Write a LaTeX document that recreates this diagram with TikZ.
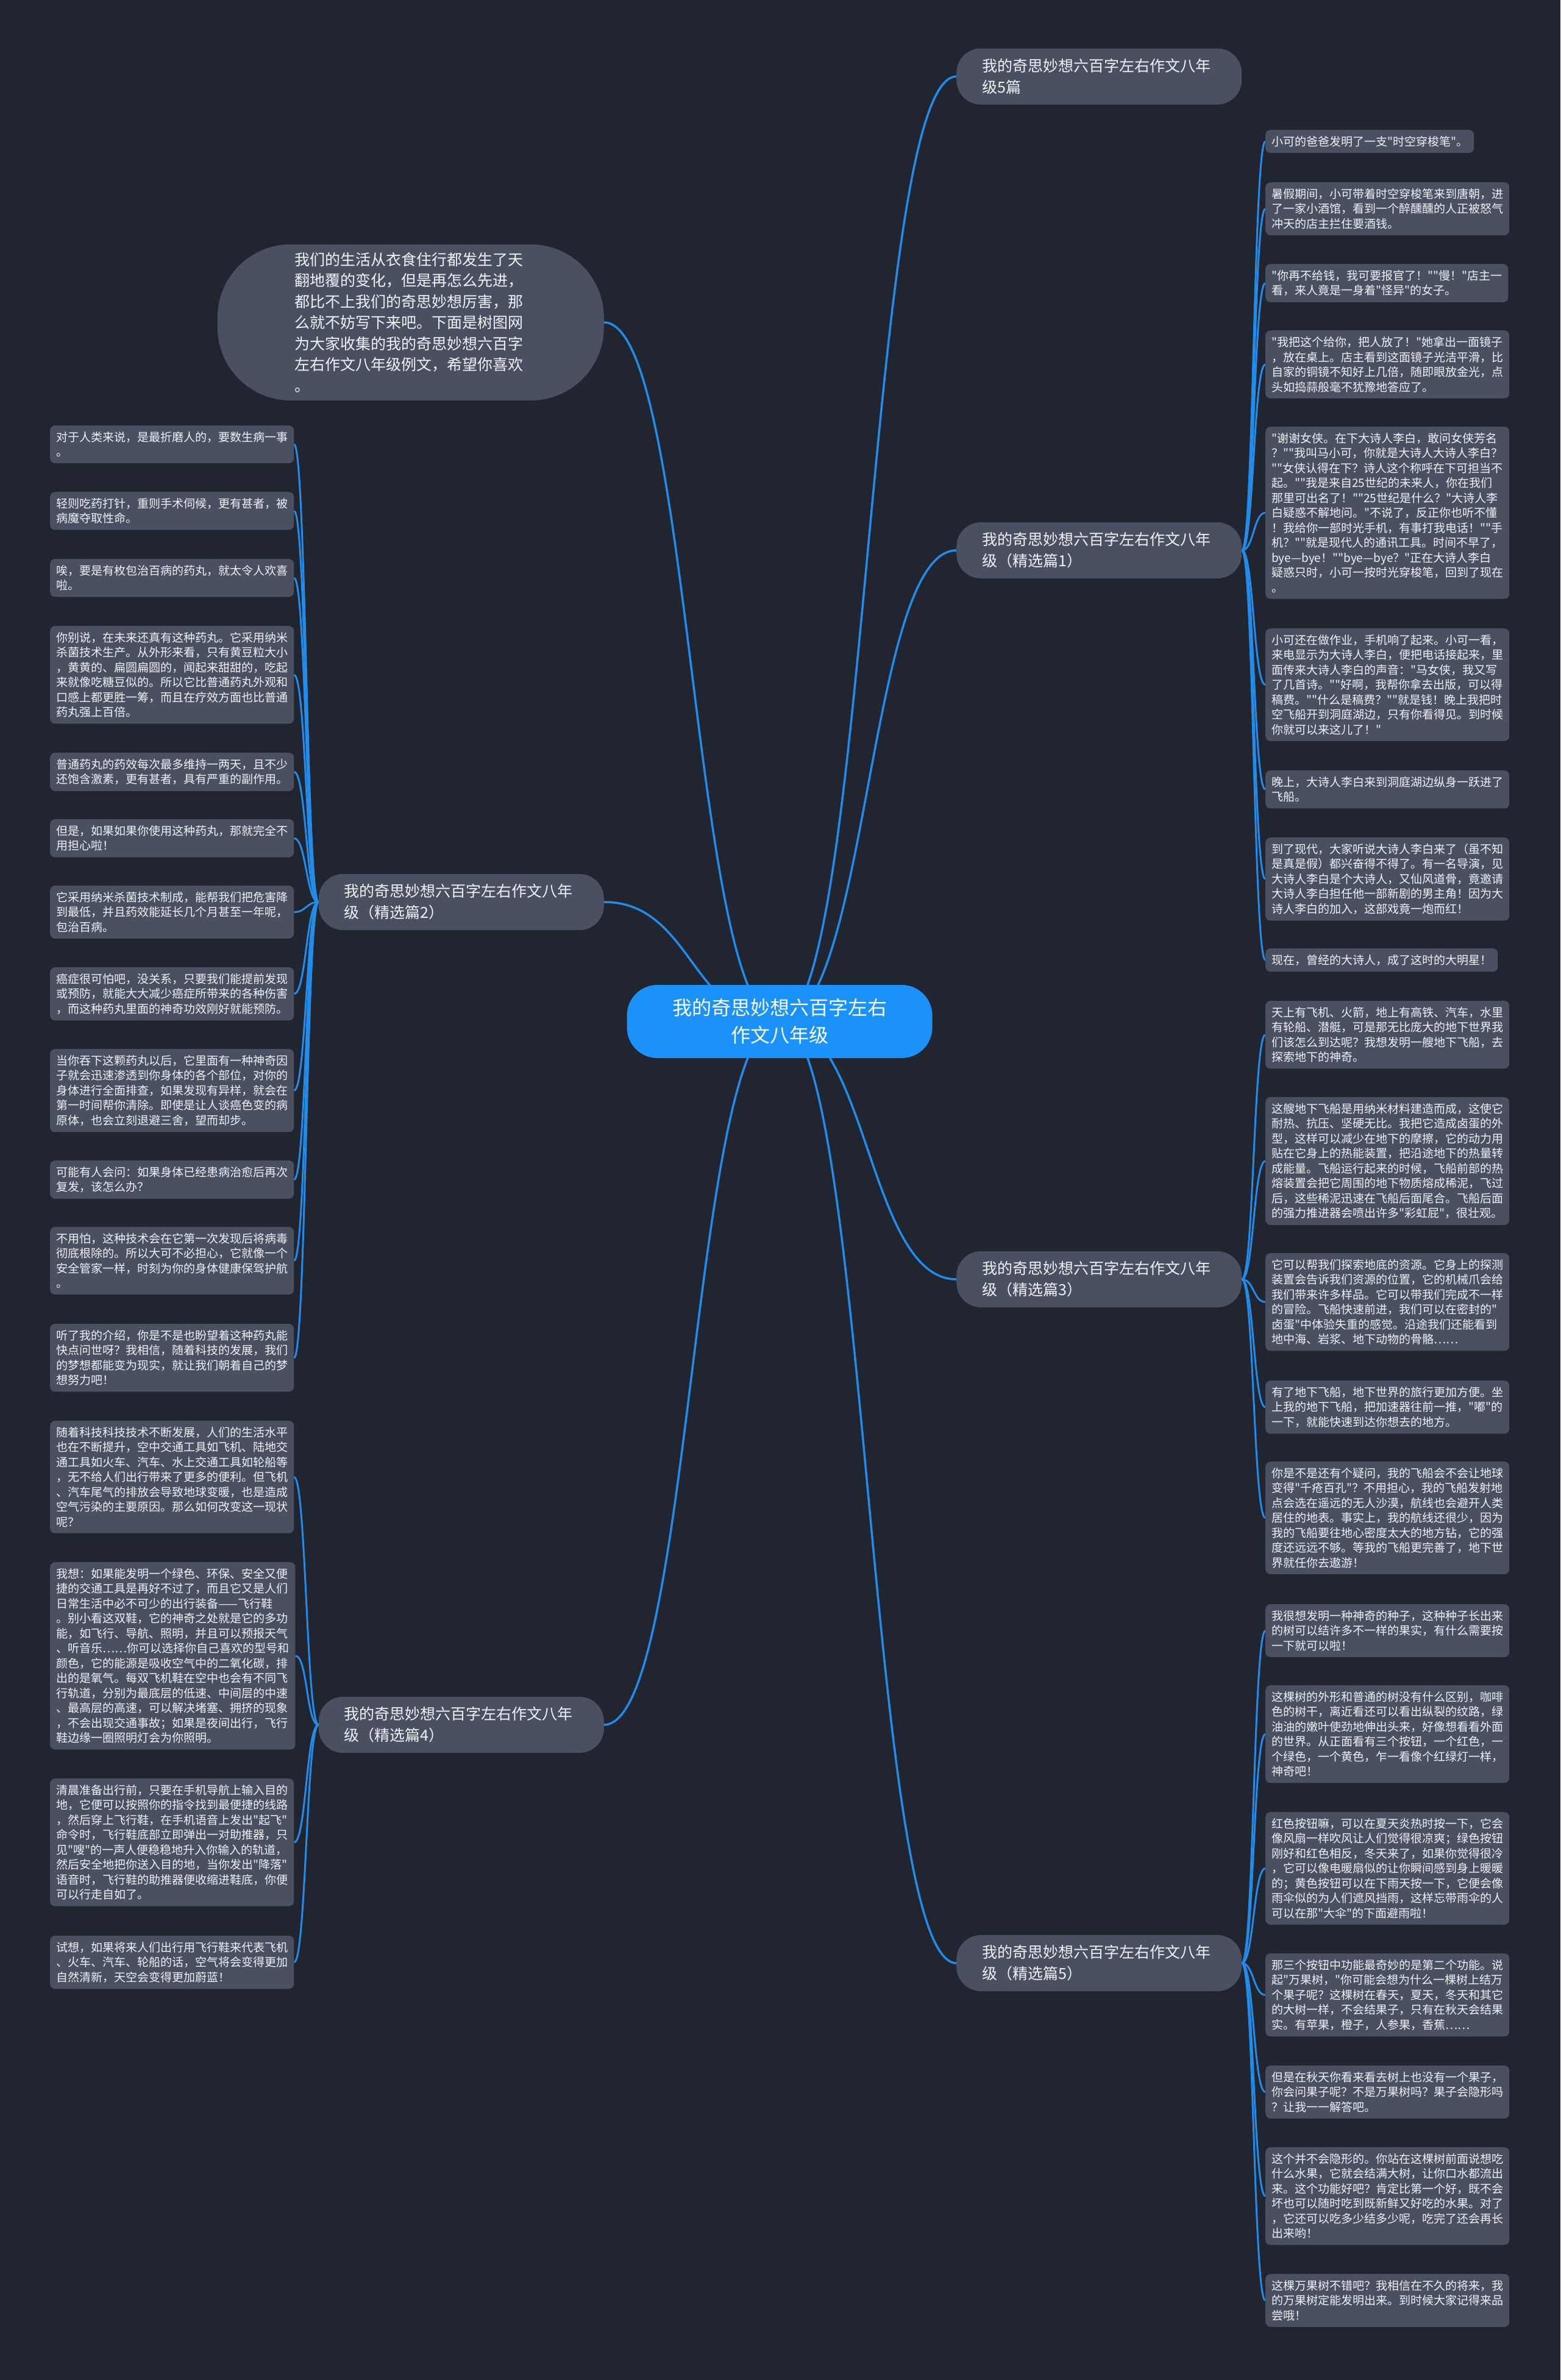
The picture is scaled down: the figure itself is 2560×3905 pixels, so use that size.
\documentclass[tikz,border=0pt]{standalone}
\usepackage{fontspec}
\newfontfamily\cjk{Noto Sans CJK SC}
\usetikzlibrary{backgrounds}
\definecolor{bgcol}{RGB}{33,37,48}
\definecolor{boxfill}{RGB}{73,80,97}
\definecolor{rootfill}{RGB}{27,145,250}
\definecolor{linkcol}{RGB}{34,140,235}
\definecolor{txtcol}{RGB}{240,242,245}

\begin{document}
\begin{tikzpicture}[x=1pt,y=-1pt,
  leaf/.style={fill=boxfill, rounded corners=8pt, text=txtcol, align=left, anchor=north west,
    inner xsep=10pt, inner ysep=10pt, font=\cjk\fontsize{19}{24.5}\selectfont},
  branch/.style={fill=boxfill, rounded corners=40pt, text=txtcol, align=left, text width=384pt,
    inner xsep=42pt, minimum height=92pt, font=\cjk\fontsize{25}{35}\selectfont},
  root/.style={fill=rootfill, rounded corners=50pt, text=white, align=center, minimum width=501pt,
    minimum height=120pt, font=\cjk\fontsize{32}{45}\selectfont},
  intro/.style={fill=boxfill, rounded corners=120pt, text=txtcol, align=left, text width=380pt,
    inner xsep=127pt, minimum height=256pt, font=\cjk\fontsize{25}{34.5}\selectfont},
  trunk/.style={draw=linkcol, line width=3.5pt},
  link/.style={draw=linkcol, line width=3pt},
]
\useasboundingbox (0,0) rectangle (2560,3905);

% ---- Centre and first level ----
\node[root] (root) at (1279,1676) {我的奇思妙想六百字左右\\作文八年级};
\node[branch, anchor=west] (b0) at (1569,125.5) {我的奇思妙想六百字左右作文八年\\级5篇};
\node[branch, anchor=west] (b1) at (1569,903) {我的奇思妙想六百字左右作文八年\\级（精选篇1）};
\node[branch, anchor=west] (b3) at (1569,2099) {我的奇思妙想六百字左右作文八年\\级（精选篇3）};
\node[branch, anchor=west] (b5) at (1569,3221) {我的奇思妙想六百字左右作文八年\\级（精选篇5）};
\node[branch, anchor=east] (b2) at (991,1480) {我的奇思妙想六百字左右作文八年\\级（精选篇2）};
\node[branch, anchor=east] (b4) at (991,2830) {我的奇思妙想六百字左右作文八年\\级（精选篇4）};
\node[intro, anchor=east] (intro) at (991,529) {我们的生活从衣食住行都发生了天\\翻地覆的变化，但是再怎么先进，\\都比不上我们的奇思妙想厉害，那\\么就不妨写下来吧。下面是树图网\\为大家收集的我的奇思妙想六百字\\左右作文八年级例文，希望你喜欢\\。};

% ---- Leaves of 精选篇1 ----
\node[leaf] (r1) at (2076,213) {小可的爸爸发明了一支"时空穿梭笔"。};
\node[leaf] (r2) at (2076,299) {暑假期间，小可带着时空穿梭笔来到唐朝，进\\了一家小酒馆，看到一个醉醺醺的人正被怒气\\冲天的店主拦住要酒钱。};
\node[leaf] (r3) at (2076,433) {"你再不给钱，我可要报官了！""慢！"店主一\\看，来人竟是一身着"怪异"的女子。};
\node[leaf] (r4) at (2076,542) {"我把这个给你，把人放了！"她拿出一面镜子\\，放在桌上。店主看到这面镜子光洁平滑，比\\自家的铜镜不知好上几倍，随即眼放金光，点\\头如捣蒜般毫不犹豫地答应了。};
\node[leaf] (r5) at (2076,700) {"谢谢女侠。在下大诗人李白，敢问女侠芳名\\？""我叫马小可，你就是大诗人大诗人李白？\\""女侠认得在下？诗人这个称呼在下可担当不\\起。""我是来自25世纪的未来人，你在我们\\那里可出名了！""25世纪是什么？"大诗人李\\白疑惑不解地问。"不说了，反正你也听不懂\\！我给你一部时光手机，有事打我电话！""手\\机？""就是现代人的通讯工具。时间不早了，\\bye—bye！""bye—bye？"正在大诗人李白\\疑惑只时，小可一按时光穿梭笔，回到了现在\\。};
\node[leaf] (r6) at (2076,1031) {小可还在做作业，手机响了起来。小可一看，\\来电显示为大诗人李白，便把电话接起来，里\\面传来大诗人李白的声音："马女侠，我又写\\了几首诗。""好啊，我帮你拿去出版，可以得\\稿费。""什么是稿费？""就是钱！晚上我把时\\空飞船开到洞庭湖边，只有你看得见。到时候\\你就可以来这儿了！"};
\node[leaf] (r7) at (2076,1264) {晚上，大诗人李白来到洞庭湖边纵身一跃进了\\飞船。};
\node[leaf] (r8) at (2076,1374) {到了现代，大家听说大诗人李白来了（虽不知\\是真是假）都兴奋得不得了。有一名导演，见\\大诗人李白是个大诗人，又仙风道骨，竟邀请\\大诗人李白担任他一部新剧的男主角！因为大\\诗人李白的加入，这部戏竟一炮而红！};
\node[leaf] (r9) at (2076,1556) {现在，曾经的大诗人，成了这时的大明星！};

% ---- Leaves of 精选篇3 ----
\node[leaf] (r10) at (2076,1642) {天上有飞机、火箭，地上有高铁、汽车，水里\\有轮船、潜艇，可是那无比庞大的地下世界我\\们该怎么到达呢？我想发明一艘地下飞船，去\\探索地下的神奇。};
\node[leaf] (r11) at (2076,1800) {这艘地下飞船是用纳米材料建造而成，这使它\\耐热、抗压、坚硬无比。我把它造成卤蛋的外\\型，这样可以减少在地下的摩擦，它的动力用\\贴在它身上的热能装置，把沿途地下的热量转\\成能量。飞船运行起来的时候，飞船前部的热\\熔装置会把它周围的地下物质熔成稀泥，飞过\\后，这些稀泥迅速在飞船后面尾合。飞船后面\\的强力推进器会喷出许多"彩虹屁"，很壮观。};
\node[leaf] (r12) at (2076,2056) {它可以帮我们探索地底的资源。它身上的探测\\装置会告诉我们资源的位置，它的机械爪会给\\我们带来许多样品。它可以带我们完成不一样\\的冒险。飞船快速前进，我们可以在密封的"\\卤蛋"中体验失重的感觉。沿途我们还能看到\\地中海、岩浆、地下动物的骨骼……};
\node[leaf] (r13) at (2076,2265) {有了地下飞船，地下世界的旅行更加方便。坐\\上我的地下飞船，把加速器往前一推，"嘟"的\\一下，就能快速到达你想去的地方。};
\node[leaf] (r14) at (2076,2398) {你是不是还有个疑问，我的飞船会不会让地球\\变得"千疮百孔"？不用担心，我的飞船发射地\\点会选在遥远的无人沙漠，航线也会避开人类\\居住的地表。事实上，我的航线还很少，因为\\我的飞船要往地心密度太大的地方钻，它的强\\度还远远不够。等我的飞船更完善了，地下世\\界就任你去遨游！};

% ---- Leaves of 精选篇5 ----
\node[leaf] (r15) at (2076,2632) {我很想发明一种神奇的种子，这种种子长出来\\的树可以结许多不一样的果实，有什么需要按\\一下就可以啦！};
\node[leaf] (r16) at (2076,2765) {这棵树的外形和普通的树没有什么区别，咖啡\\色的树干，离近看还可以看出纵裂的纹路，绿\\油油的嫩叶使劲地伸出头来，好像想看看外面\\的世界。从正面看有三个按钮，一个红色，一\\个绿色，一个黄色，乍一看像个红绿灯一样，\\神奇吧！};
\node[leaf] (r17) at (2076,2973) {红色按钮嘛，可以在夏天炎热时按一下，它会\\像风扇一样吹风让人们觉得很凉爽；绿色按钮\\刚好和红色相反，冬天来了，如果你觉得很冷\\，它可以像电暖扇似的让你瞬间感到身上暖暖\\的；黄色按钮可以在下雨天按一下，它便会像\\雨伞似的为人们遮风挡雨，这样忘带雨伞的人\\可以在那"大伞"的下面避雨啦！};
\node[leaf] (r18) at (2076,3205) {那三个按钮中功能最奇妙的是第二个功能。说\\起"万果树，"你可能会想为什么一棵树上结万\\个果子呢？这棵树在春天，夏天，冬天和其它\\的大树一样，不会结果子，只有在秋天会结果\\实。有苹果，橙子，人参果，香蕉……};
\node[leaf] (r19) at (2076,3389) {但是在秋天你看来看去树上也没有一个果子，\\你会问果子呢？不是万果树吗？果子会隐形吗\\？让我一一解答吧。};
\node[leaf] (r20) at (2076,3523) {这个并不会隐形的。你站在这棵树前面说想吃\\什么水果，它就会结满大树，让你口水都流出\\来。这个功能好吧？肯定比第一个好，既不会\\坏也可以随时吃到既新鲜又好吃的水果。对了\\，它还可以吃多少结多少呢，吃完了还会再长\\出来哟！};
\node[leaf] (r21) at (2076,3731) {这棵万果树不错吧？我相信在不久的将来，我\\的万果树定能发明出来。到时候大家记得来品\\尝哦！};

% ---- Leaves of 精选篇2 ----
\node[leaf] (l1) at (82,698) {对于人类来说，是最折磨人的，要数生病一事\\。};
\node[leaf] (l2) at (82,807) {轻则吃药打针，重则手术伺候，更有甚者，被\\病魔夺取性命。};
\node[leaf] (l3) at (82,917) {唉，要是有枚包治百病的药丸，就太令人欢喜\\啦。};
\node[leaf] (l4) at (82,1027) {你别说，在未来还真有这种药丸。它采用纳米\\杀菌技术生产。从外形来看，只有黄豆粒大小\\，黄黄的、扁圆扁圆的，闻起来甜甜的，吃起\\来就像吃糖豆似的。所以它比普通药丸外观和\\口感上都更胜一筹，而且在疗效方面也比普通\\药丸强上百倍。};
\node[leaf] (l5) at (82,1235) {普通药丸的药效每次最多维持一两天，且不少\\还饱含激素，更有甚者，具有严重的副作用。};
\node[leaf] (l6) at (82,1344) {但是，如果如果你使用这种药丸，那就完全不\\用担心啦！};
\node[leaf] (l7) at (82,1453) {它采用纳米杀菌技术制成，能帮我们把危害降\\到最低，并且药效能延长几个月甚至一年呢，\\包治百病。};
\node[leaf] (l8) at (82,1587) {癌症很可怕吧，没关系，只要我们能提前发现\\或预防，就能大大减少癌症所带来的各种伤害\\，而这种药丸里面的神奇功效刚好就能预防。};
\node[leaf] (l9) at (82,1721) {当你吞下这颗药丸以后，它里面有一种神奇因\\子就会迅速渗透到你身体的各个部位，对你的\\身体进行全面排查，如果发现有异样，就会在\\第一时间帮你清除。即使是让人谈癌色变的病\\原体，也会立刻退避三舍，望而却步。};
\node[leaf] (l10) at (82,1904) {可能有人会问：如果身体已经患病治愈后再次\\复发，该怎么办？};
\node[leaf] (l11) at (82,2013) {不用怕，这种技术会在它第一次发现后将病毒\\彻底根除的。所以大可不必担心，它就像一个\\安全管家一样，时刻为你的身体健康保驾护航\\。};
\node[leaf] (l12) at (82,2172) {听了我的介绍，你是不是也盼望着这种药丸能\\快点问世呀？我相信，随着科技的发展，我们\\的梦想都能变为现实，就让我们朝着自己的梦\\想努力吧！};

% ---- Leaves of 精选篇4 ----
\node[leaf] (l13) at (82,2331) {随着科技科技技术不断发展，人们的生活水平\\也在不断提升，空中交通工具如飞机、陆地交\\通工具如火车、汽车、水上交通工具如轮船等\\，无不给人们出行带来了更多的便利。但飞机\\、汽车尾气的排放会导致地球变暖，也是造成\\空气污染的主要原因。那么如何改变这一现状\\呢？};
\node[leaf] (l14) at (82,2563) {我想：如果能发明一个绿色、环保、安全又便\\捷的交通工具是再好不过了，而且它又是人们\\日常生活中必不可少的出行装备——飞行鞋\\。别小看这双鞋，它的神奇之处就是它的多功\\能，如飞行、导航、照明，并且可以预报天气\\、听音乐……你可以选择你自己喜欢的型号和\\颜色，它的能源是吸收空气中的二氧化碳，排\\出的是氧气。每双飞机鞋在空中也会有不同飞\\行轨道，分别为最底层的低速、中间层的中速\\、最高层的高速，可以解决堵塞、拥挤的现象\\，不会出现交通事故；如果是夜间出行，飞行\\鞋边缘一圈照明灯会为你照明。};
\node[leaf] (l15) at (82,2918) {清晨准备出行前，只要在手机导航上输入目的\\地，它便可以按照你的指令找到最便捷的线路\\，然后穿上飞行鞋，在手机语音上发出"起飞"\\命令时，飞行鞋底部立即弹出一对助推器，只\\见"嗖"的一声人便稳稳地升入你输入的轨道，\\然后安全地把你送入目的地，当你发出"降落"\\语音时，飞行鞋的助推器便收缩进鞋底，你便\\可以行走自如了。};
\node[leaf] (l16) at (82,3176) {试想，如果将来人们出行用飞行鞋来代表飞机\\、火车、汽车、轮船的话，空气将会变得更加\\自然清新，天空会变得更加蔚蓝！};

% ---- Connectors, behind the boxes ----
\begin{scope}[on background layer]
\fill[bgcol] (0,0) rectangle (2560,3905);
\foreach \b in {b0,b1,b3,b5}
  \draw[trunk] (root.center) .. controls +(145,0) and +(-145,0) .. (\b.west);
\foreach \b in {intro,b2,b4}
  \draw[trunk] (root.center) .. controls +(-144,0) and +(144,0) .. (\b.east);
\foreach \i in {1,...,9}
  \draw[link] (b1.east) .. controls +(19.5,0) and +(-19.5,0) .. (r\i.west);
\foreach \i in {10,...,14}
  \draw[link] (b3.east) .. controls +(19.5,0) and +(-19.5,0) .. (r\i.west);
\foreach \i in {15,...,21}
  \draw[link] (b5.east) .. controls +(19.5,0) and +(-19.5,0) .. (r\i.west);
\foreach \i in {1,...,12}
  \draw[link] (b2.west) .. controls +(-20,0) and +(20,0) .. (l\i.east);
\foreach \i in {13,...,16}
  \draw[link] (b4.west) .. controls +(-20,0) and +(20,0) .. (l\i.east);
\end{scope}
\end{tikzpicture}
\end{document}
